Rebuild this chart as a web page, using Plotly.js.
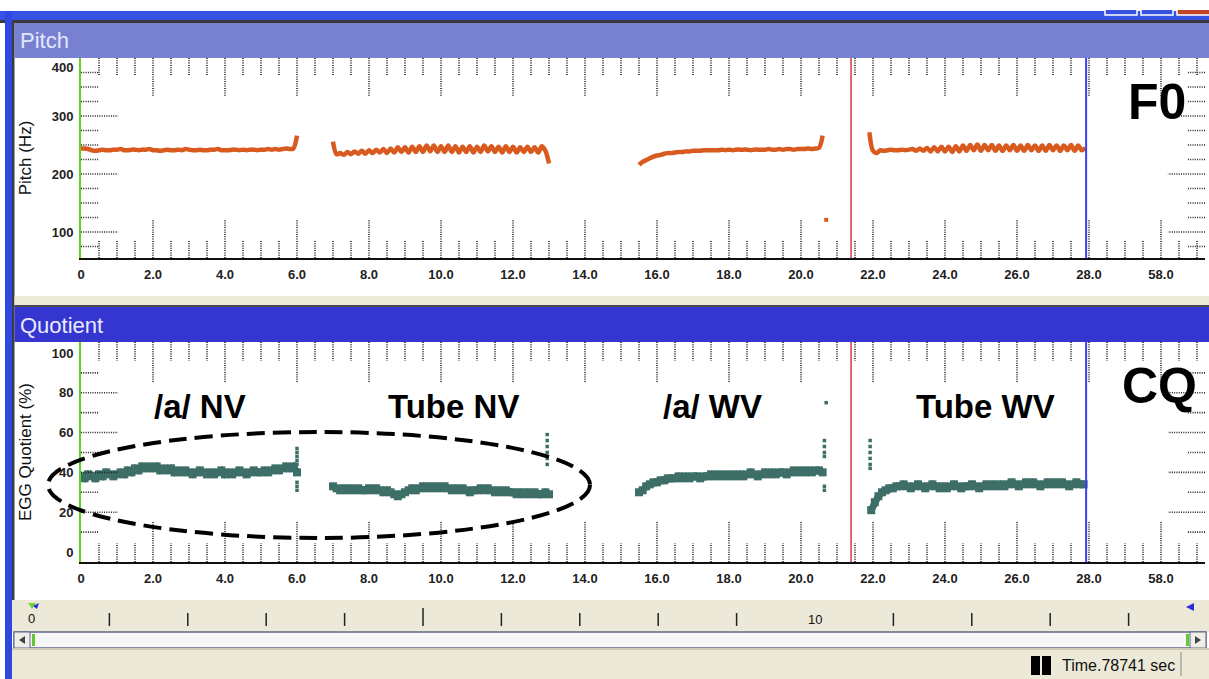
<!DOCTYPE html>
<html><head><meta charset="utf-8">
<script src="https://cdn.plot.ly/plotly-3.0.1.min.js"></script>
<style>html,body{margin:0;padding:0;background:#fff;overflow:hidden}#chart{width:1209px;height:679px}</style>
</head><body><div id="chart"></div>
<script>
const W = 1209, H = 679;

// ---- axis ticks ----
const xTickVals = [0,2,4,6,8,10,12,14,16,18,20,22,24,26,28,30];
const xTickText = ["0","2.0","4.0","6.0","8.0","10.0","12.0","14.0","16.0","18.0","20.0","22.0","24.0","26.0","28.0","58.0"];
// the source program prints its top "400" label slightly below the plot top
const pitchTickVals = [100,200,300,383];
const pitchTickText = ["100","200","300","400"];
const cqTickVals = [0,20,40,60,80,100];
const cqTickText = ["0","20","40","60","80","100"];

// ---- sampling ----
const SAMPLE_STEP = 0.1; // seconds between samples

// ---- Pitch (Hz) ----
const pitchANV_t0 = 0.0;
const pitchANV = [244,244,243,241,240,241,242,241,241,242,
                  242,243,241,241,242,242,241,242,242,243,
                  241,241,240,241,242,241,241,242,241,243,
                  242,241,241,242,241,241,242,242,243,241,
                  241,241,242,242,241,242,241,242,242,241,
                  242,242,243,242,243,242,243,244,243,244,266];
const pitchTNV_t0 = 7.0;
const pitchTNV = [256,234,236,233,238,234,239,235,240,235,
                  241,236,242,237,243,236,244,237,246,238,
                  246,237,247,238,248,238,249,239,249,238,
                  248,238,249,238,248,237,247,238,248,237,
                  247,238,249,239,248,238,247,237,248,238,
                  247,237,246,238,247,238,246,237,248,240,218];
const pitchAWV_t0 = 15.5;
const pitchAWV = [216,221,224,227,230,232,233,235,236,236,
                  237,238,238,239,239,240,240,240,241,241,
                  241,241,241,242,241,242,241,242,242,242,
                  242,241,242,242,242,242,243,242,242,243,
                  242,243,243,242,243,243,243,244,243,244,245,266];
const pitchTWV_t0 = 21.9;
const pitchTWV = [272,240,236,241,240,241,242,241,241,242,
                  241,242,243,240,244,240,245,239,246,239,
                  247,239,247,238,248,239,249,240,250,241,
                  251,240,250,241,250,240,249,240,249,241,
                  250,240,249,240,250,241,249,240,249,240,
                  250,241,249,240,249,241,250,240,249,241,245];
const pitchDotT = [20.7];
const pitchDotV = [121];

// ---- EGG Quotient (%) ----
const cqANV = [38,37,39,38,37,39,38,40,39,38,
               39,40,39,41,40,42,41,43,42,43,
               42,43,41,42,41,42,40,41,40,41,
               40,39,40,41,40,39,40,39,40,41,
               39,40,39,40,41,40,39,40,41,40,
               40,41,40,41,42,41,42,43,42,43,40];
const cqTNV = [33,32,31,32,31,32,31,32,31,31,
               32,31,32,31,30,31,30,29,28,29,
               30,31,32,31,32,33,32,33,32,33,
               32,33,32,31,32,31,32,31,30,31,
               31,32,31,32,31,30,31,30,31,30,
               30,29,30,29,30,29,30,29,29,30,29];
const cqAWV = [30,31,33,34,35,35,36,36,37,37,
               37,38,37,38,37,38,38,37,38,38,
               39,38,39,38,39,38,39,38,39,38,
               39,40,39,38,39,40,39,40,39,40,
               40,39,40,41,40,41,40,41,40,41,41,40];
const cqTWV_t0 = 21.95;
const cqTWV = [21,25,28,30,31,32,32,33,33,34,
               33,32,33,34,33,32,33,34,33,32,
               33,32,33,34,33,32,33,33,34,33,
               32,33,34,33,34,33,34,33,34,35,
               34,33,34,35,34,35,34,33,34,35,
               34,35,34,35,34,33,34,35,34,34];
const cqDotT = [6.0,6.0,6.0,6.0,6.0,6.0,6.0,6.0, 12.95,12.95,12.95,12.95,12.95,12.95, 20.65,20.65,20.65,20.65,20.65,20.65, 20.7, 21.92,21.92,21.92,21.92,21.92,21.92];
const cqDotV = [52,50,48,46,44,35,33,31, 59,56,53,50,47,44, 56,53,50,48,33,31, 75, 56,53,50,47,44,42];

// ---- cursors, labels ----
const cursorRedT = 21.39;
const cursorBlueT = 27.92;
const segmentLabels = ["/a/ NV","Tube NV","/a/ WV","Tube WV"];
const segmentLabelPx = [200,453,712,985];

const PITCH_COLOR = '#d85a1e';
const CQ_COLOR = '#3d6e67';
const FONT = 'Liberation Sans, Arial, sans-serif';

function times(t0, n){ const a=[]; for(let i=0;i<n;i++) a.push(+(t0 + i*SAMPLE_STEP).toFixed(3)); return a; }

const traces = [];
[[pitchANV_t0,pitchANV],[pitchTNV_t0,pitchTNV],[pitchAWV_t0,pitchAWV],[pitchTWV_t0,pitchTWV]].forEach(([t0,v])=>{
  traces.push({type:'scatter',mode:'lines',x:times(t0,v.length),y:v,xaxis:'x',yaxis:'y',
    line:{color:PITCH_COLOR,width:4.5,shape:'spline',smoothing:0.9},hoverinfo:'skip'});
});
traces.push({type:'scatter',mode:'markers',x:pitchDotT,y:pitchDotV,xaxis:'x',yaxis:'y',
  marker:{color:PITCH_COLOR,size:4,symbol:'square'},hoverinfo:'skip'});
[[pitchANV_t0,cqANV],[pitchTNV_t0,cqTNV],[pitchAWV_t0,cqAWV],[cqTWV_t0,cqTWV]].forEach(([t0,v])=>{
  traces.push({type:'scatter',mode:'lines+markers',x:times(t0,v.length),y:v,xaxis:'x2',yaxis:'y2',
    line:{color:CQ_COLOR,width:7},marker:{color:CQ_COLOR,size:8,symbol:'square'},hoverinfo:'skip'});
});
traces.push({type:'scatter',mode:'markers',x:cqDotT,y:cqDotV,xaxis:'x2',yaxis:'y2',
  marker:{color:CQ_COLOR,size:3.5,symbol:'square'},hoverinfo:'skip'});

// ---- shapes ----
const shapes = [];
const px = x => x/W, py = y => 1 - y/H;
function rect(x0,y0,x1,y1,fill,lc,lw){
  shapes.push({type:'rect',xref:'paper',yref:'paper',x0:px(x0),x1:px(x1),y0:py(y1),y1:py(y0),
    fillcolor:fill,line:{color:lc||'rgba(0,0,0,0)',width:lw||0},layer:'below'});
}
function seg(x0,y0,x1,y1,color,w){
  shapes.push({type:'line',xref:'paper',yref:'paper',x0:px(x0),x1:px(x1),y0:py(y0),y1:py(y1),
    line:{color:color,width:w},layer:'above'});
}
function tri(pts,fill){
  const d = 'M' + pts.map(p=>px(p[0])+','+py(p[1])).join(' L') + ' Z';
  shapes.push({type:'path',xref:'paper',yref:'paper',path:d,fillcolor:fill,line:{width:0},layer:'above'});
}
// window chrome
rect(0,11,W,20,'#3452e4');
rect(0,20,W,23,'#3a3a3a');
rect(1105,4,1137,15,'#3650e0','#ffffff',1.5);
rect(1141,4,1173,15,'#3650e0','#ffffff',1.5);
rect(1177,4,1212,15,'#c04426','#ffffff',1.5);
rect(0,0,W,10,'#ffffff');
rect(5,11,12,H,'#2f49e0');
rect(12,20,14.5,600,'#3c3c3c');
rect(14.5,23,W,58,'#7880d2');
rect(14.5,296,W,305,'#ecead8');
rect(14.5,305,W,307,'#4a4a4a');
rect(14.5,307,W,342,'#3535cf');
rect(12,600,W,632,'#ece9d8');
rect(14,632,W-3,648,'#f7f7f7','#5f6a84',1.5);
rect(14,632,30,648,'#efeee8','#5f6a84',1);
rect(1190,632,W-3,648,'#efeee8','#5f6a84',1);
rect(12,648,W,679,'#ece9d8');
rect(12,648,W,650,'#cfcbb8');
rect(1031,656,1040,675,'#000000');
rect(1042,656,1051,675,'#000000');
rect(1180,652,1182,676,'#bdb9a8');
tri([[25,636],[25,644],[19,640]],'#444');
tri([[1195,636],[1195,644],[1201,640]],'#444');
rect(32,634,35,646,'#62c834');
rect(1186,634,1189,646,'#62c834');
tri([[1186,607],[1194,603],[1194,611]],'#2a2ae0');
tri([[28,603],[36,603],[32,609]],'#6bd82a');
tri([[33,606],[39,603],[37,609]],'#2a2ae0');
// ruler ticks
for(let k=1;k<=14;k++){ if(k===10) continue; const x = 31 + 78.4*k; seg(x, k===5?608:613, x, 626, '#222', 1.5); }

// dotted minor marks along plot edges (in axis coordinates)
function edgeMarks(xa, ya, xMax, yVals, yMajor, longV, shortV, longH, shortH){
  for(let i=1;i<=xMax*2;i++){
    const t = i/2; const major = (i%4===0);
    const L = major?longV:shortV;
    [[1,1-L],[0,L]].forEach(([a,b])=>shapes.push({type:'line',xref:xa,yref:ya+' domain',x0:t,x1:t,y0:a,y1:b,
      line:{color:'#222',width:1.6,dash:'1px,1.3px'}}));
  }
  yVals.forEach(v=>{
    const major = yMajor.includes(v);
    const L = major?longH:shortH;
    [[0,L],[1,1-L]].forEach(([a,b])=>shapes.push({type:'line',xref:xa+' domain',yref:ya,x0:a,x1:b,y0:v,y1:v,
      line:{color:'#222',width:1.6,dash:'1px,1.3px'}}));
  });
}
edgeMarks('x','y',31,[75,100,125,150,175,200,225,250,275,300,325,350,375],[100,200,300],0.195,0.085,0.033,0.016);
edgeMarks('x2','y2',31,[10,20,30,40,50,60,70,80,90],[20,40,60,80],0.182,0.086,0.033,0.016);

// cursors
[['x','y'],['x2','y2']].forEach(([xa,ya])=>{
  shapes.push({type:'line',xref:xa,yref:ya+' domain',x0:cursorRedT,x1:cursorRedT,y0:0,y1:1,line:{color:'#d83a3a',width:1.5}});
  shapes.push({type:'line',xref:xa,yref:ya+' domain',x0:cursorBlueT,x1:cursorBlueT,y0:0,y1:1,line:{color:'#3c3cff',width:2}});
});
// dashed ellipse
shapes.push({type:'circle',xref:'paper',yref:'paper',x0:px(48),x1:px(590),y0:py(538),y1:py(432),
  line:{color:'#000',width:4,dash:'18px,8px'},fillcolor:'rgba(0,0,0,0)',layer:'above'});

// ---- annotations ----
const ann = [];
function txt(text,x,y,size,opts){ ann.push(Object.assign({text:text,xref:'paper',yref:'paper',x:px(x),y:py(y),
  showarrow:false,font:{family:FONT,size:size,color:'#000'},xanchor:'center',yanchor:'middle'},opts||{})); }
txt('Pitch',18,40,22,{xanchor:'left',font:{family:FONT,size:22,color:'#e3e6ff'}});
txt('Quotient',18,325,22,{xanchor:'left',font:{family:FONT,size:22,color:'#eaeaff'}});
txt('F0',1157,102,50,{font:{family:FONT,size:50,color:'#000',weight:'bold'}});
txt('CQ',1159,386,50,{font:{family:FONT,size:50,color:'#000',weight:'bold'}});
segmentLabels.forEach((s,i)=>txt(s,segmentLabelPx[i],406,33,{font:{family:FONT,size:33,color:'#000',weight:'bold'}}));
txt('0',31,618,13,{font:{family:FONT,size:13,color:'#111'}});
txt('10',815,619,13,{font:{family:FONT,size:13,color:'#111'}});
txt('Time.78741 sec',1060,665,16,{xanchor:'left',font:{family:FONT,size:16,color:'#111'}});

const tickFont = {family:FONT,size:13,color:'#222',weight:'bold'};
const xDom = [81/W, 1205/W];
const xRange = [0, (1205-81)/36];
function xAxis(anchor){ return {domain:xDom,range:xRange,anchor:anchor,tickvals:xTickVals,ticktext:xTickText,
  showgrid:false,zeroline:false,showline:true,linecolor:'#111',linewidth:2,ticks:'outside',ticklen:3,
  tickcolor:'rgba(0,0,0,0)',tickfont:tickFont,fixedrange:true}; }

const layout = {
  width:W,height:H,margin:{l:0,r:0,t:0,b:0,pad:0},autosize:false,
  paper_bgcolor:'#ffffff',plot_bgcolor:'#ffffff',showlegend:false,
  xaxis:xAxis('y'),
  xaxis2:xAxis('y2'),
  yaxis:{domain:[py(258),py(58)],range:[55.17,400],anchor:'x',tickvals:pitchTickVals,ticktext:pitchTickText,
    showgrid:false,zeroline:false,showline:true,linecolor:'#5cd61c',linewidth:2,ticks:'outside',ticklen:3,
    tickcolor:'rgba(0,0,0,0)',tickfont:tickFont,fixedrange:true,
    title:{text:'Pitch (Hz)',font:{family:FONT,size:17,color:'#111'},standoff:16}},
  yaxis2:{domain:[py(562),py(342)],range:[-5.03,105.5],anchor:'x2',tickvals:cqTickVals,ticktext:cqTickText,
    showgrid:false,zeroline:false,showline:true,linecolor:'#5cd61c',linewidth:2,ticks:'outside',ticklen:3,
    tickcolor:'rgba(0,0,0,0)',tickfont:tickFont,fixedrange:true,
    title:{text:'EGG Quotient (%)',font:{family:FONT,size:17,color:'#111'},standoff:16}},
  shapes:shapes,annotations:ann
};
Plotly.newPlot('chart',traces,layout,{displayModeBar:false,staticPlot:true});
</script></body></html>
